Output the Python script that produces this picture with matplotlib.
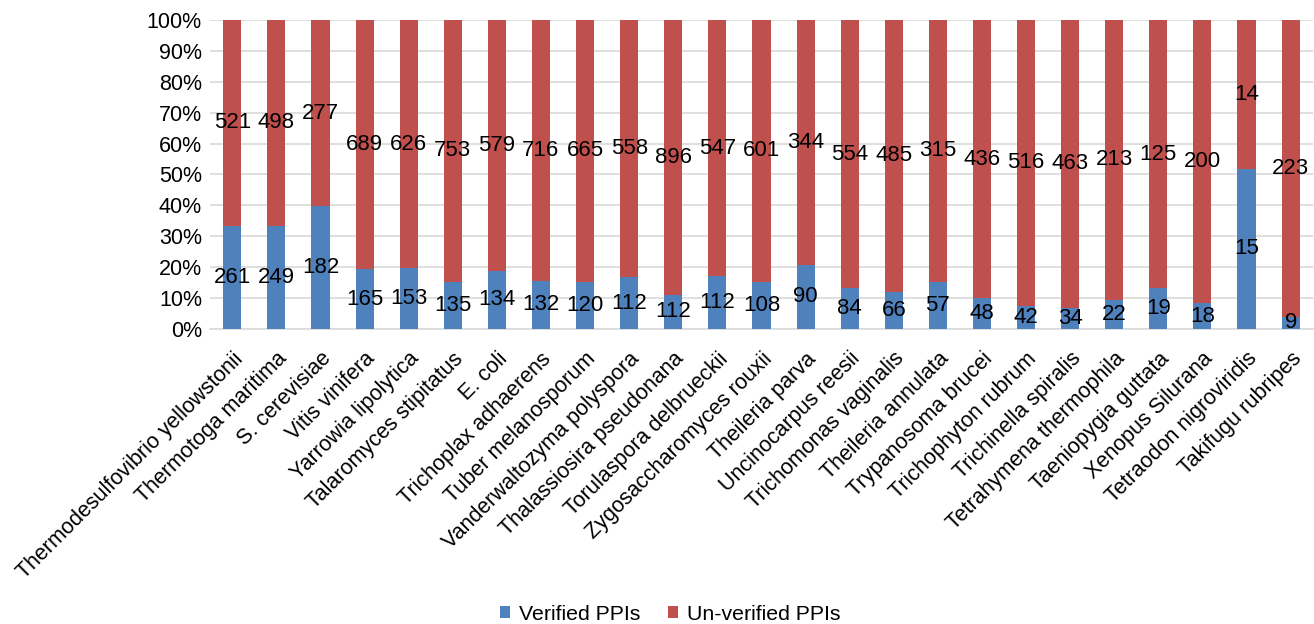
import matplotlib
matplotlib.use('Agg')
import matplotlib.pyplot as plt
import numpy as np

plt.rcParams['font.family'] = ['Liberation Sans', 'DejaVu Sans']

species = ['Thermodesulfovibrio yellowstonii', 'Thermotoga maritima', 'S. cerevisiae',
           'Vitis vinifera', 'Yarrowia lipolytica', 'Talaromyces stipitatus', 'E. coli',
           'Trichoplax adhaerens', 'Tuber melanosporum', 'Vanderwaltozyma polyspora',
           'Thalassiosira pseudonana', 'Torulaspora delbrueckii', 'Zygosaccharomyces rouxii',
           'Theileria parva', 'Uncinocarpus reesii', 'Trichomonas vaginalis',
           'Theileria annulata', 'Trypanosoma brucei', 'Trichophyton rubrum',
           'Trichinella spiralis', 'Tetrahymena thermophila', 'Taeniopygia guttata',
           'Xenopus Silurana', 'Tetraodon nigroviridis', 'Takifugu rubripes']
verified = [261, 249, 182, 165, 153, 135, 134, 132, 120, 112, 112, 112, 108, 90, 84,
            66, 57, 48, 42, 34, 22, 19, 18, 15, 9]
unverified = [521, 498, 277, 689, 626, 753, 579, 716, 665, 558, 896, 547, 601, 344, 554,
              485, 315, 436, 516, 463, 213, 125, 200, 14, 223]

blue = '#4F81BD'
red = '#C0504D'

v = np.array(verified, dtype=float)
u = np.array(unverified, dtype=float)
tot = v + u
pv = v / tot
pu = u / tot
x = np.arange(len(species))

fig = plt.figure(figsize=(13.14, 6.24), dpi=100)
ax = fig.add_axes([0.16, 0.473, 0.839, 0.495])

w = 0.41
b1 = ax.bar(x, pv, w, color=blue, label='Verified PPIs', zorder=3)
b2 = ax.bar(x, pu, w, bottom=pv, color=red, label='Un-verified PPIs', zorder=3)

# segment labels, centred
for i in range(len(x)):
    ax.text(x[i], pv[i] / 2, str(verified[i]), ha='center', va='center', fontsize=16, zorder=4)
    ax.text(x[i], pv[i] + pu[i] / 2, str(unverified[i]), ha='center', va='center', fontsize=16, zorder=4)

ax.set_xlim(-0.5, len(x) - 0.5)
ax.set_ylim(0, 1)
ax.set_yticks(np.arange(0, 1.01, 0.1))
ax.set_yticklabels(['%d%%' % round(t * 100) for t in np.arange(0, 1.01, 0.1)], fontsize=15.5)
ax.set_xticks(x)
ax.set_xticklabels(species, rotation=45, ha='right', rotation_mode='anchor', fontsize=15.5)
ax.tick_params(axis='both', length=0, pad=6)
ax.tick_params(axis='x', pad=14)
ax.grid(axis='y', color='#D9D9D9', linewidth=1.2, zorder=0)
for s in ['top', 'right', 'left']:
    ax.spines[s].set_visible(False)
ax.spines['bottom'].set_color('#D9D9D9')
ax.spines['bottom'].set_linewidth(1.2)

fig.legend(handles=[b1, b2], loc='lower center', bbox_to_anchor=(0.51, -0.03), ncol=2,
           frameon=False, fontsize=15.3, handlelength=0.48, handleheight=0.48,
           handletextpad=0.4, columnspacing=1.3)

fig.savefig('out.png', dpi=100)
